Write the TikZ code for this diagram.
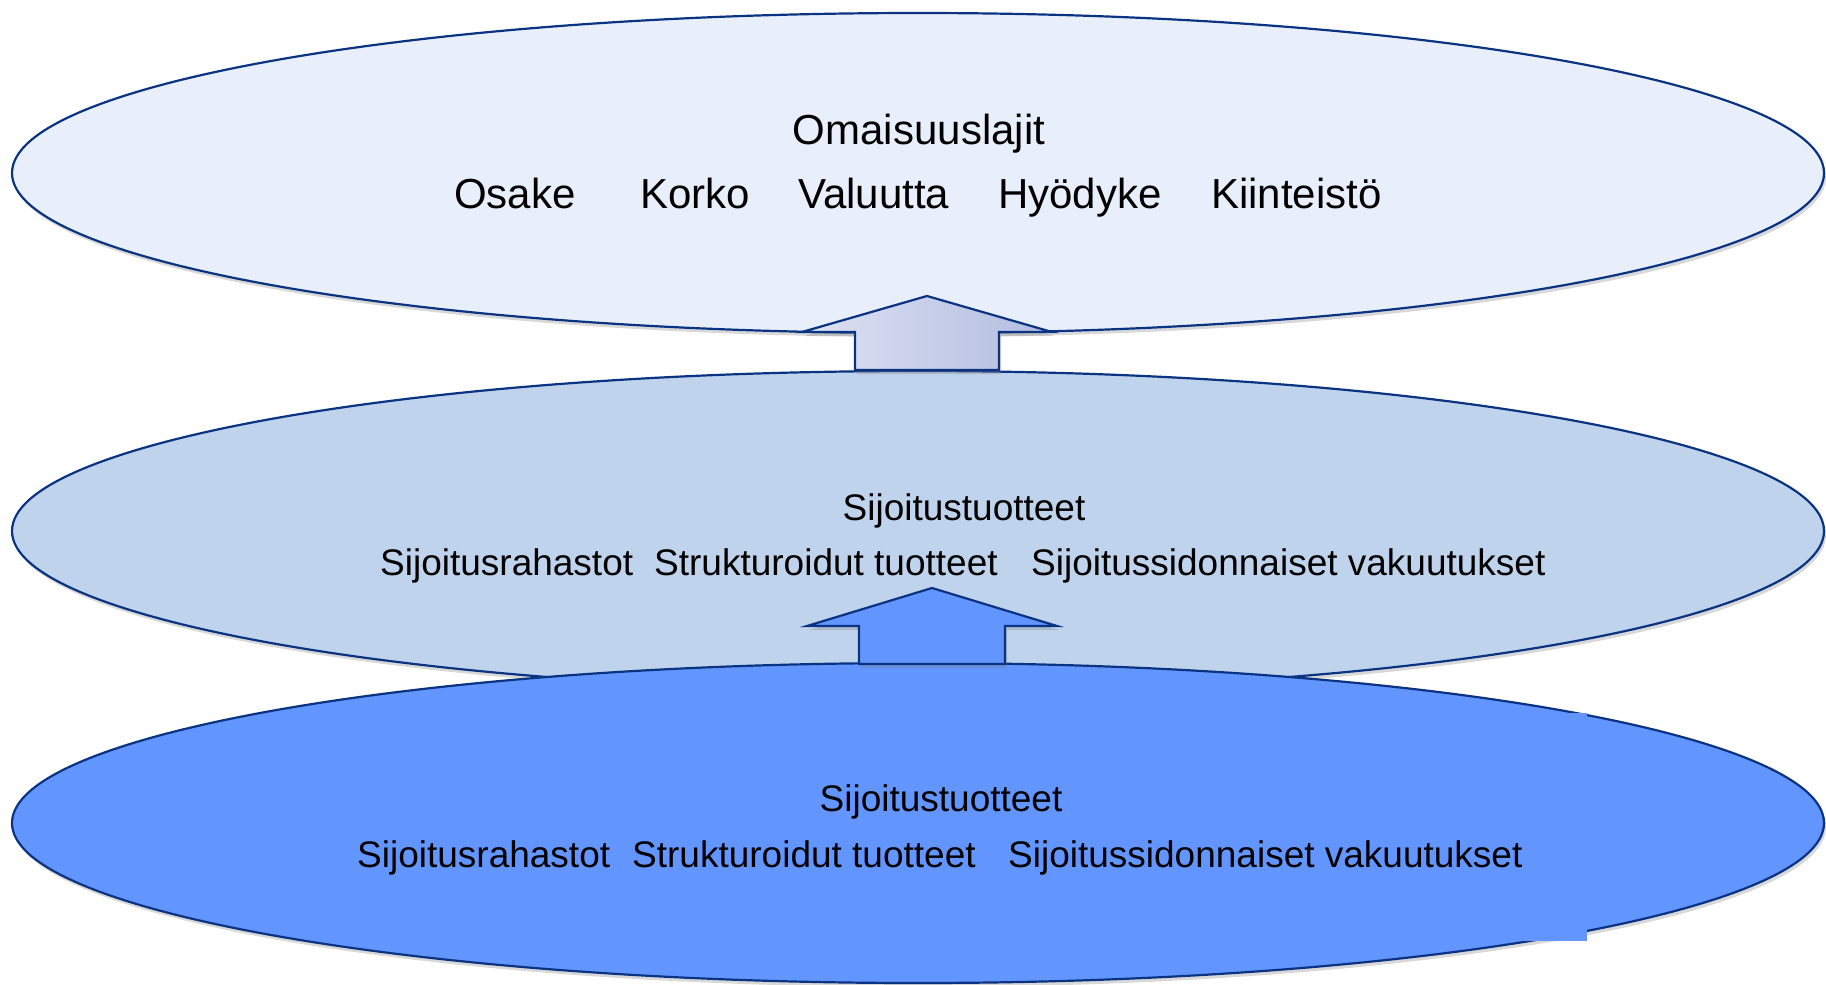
\documentclass[tikz,border=0pt]{standalone}
\usepackage{fontspec}
\setmainfont{Liberation Sans}
\usetikzlibrary{shapes.geometric,shadows}
\definecolor{edge}{RGB}{10,52,130}
\definecolor{topfill}{RGB}{232,239,250}
\definecolor{midfill}{RGB}{191,211,236}
\definecolor{botfill}{RGB}{99,149,255}
\definecolor{arrowL}{RGB}{222,226,243}
\definecolor{arrowR}{RGB}{178,188,224}
\tikzset{
  layer/.style={ellipse, draw=edge, line width=2.2pt, minimum width=1812pt,
    minimum height=320pt, inner sep=0pt,
    drop shadow={shadow xshift=2pt, shadow yshift=-4pt, opacity=0.3}},
  bigarrow/.style={draw=edge, line width=2.2pt, line join=miter,
    drop shadow={shadow xshift=2pt, shadow yshift=-4pt, opacity=0.3}},
  bigtxt/.style={font=\fontsize{42}{50}\selectfont, inner sep=0pt, anchor=base west},
  midtxt/.style={font=\fontsize{37}{44}\selectfont, inner sep=0pt, anchor=base west},
}
\begin{document}
\begin{tikzpicture}[x=1pt,y=-1pt]
\useasboundingbox (0,0) rectangle (1826,985);
\fill[white] (0,0) rectangle (1826,985);
% layers
\node[layer, fill=topfill] (top) at (918,173) {};
\node[layer, fill=midfill] (mid) at (918,531) {};
% upper arrow
\path[bigarrow, left color=arrowL, right color=arrowR]
  (927,296) -- (1052,332) -- (999,332) -- (999,370) -- (855,370)
  -- (855,332) -- (802,332) -- cycle;
\node[layer, fill=botfill] (bot) at (918,823) {};
% text box fill artefact
\fill[botfill] (340,713) rectangle (1587,941);
% lower arrow
\path[bigarrow, fill=botfill]
  (932,588) -- (1057,626) -- (1005,626) -- (1005,664) -- (859,664)
  -- (859,626) -- (807,626) -- cycle;
% top texts
\node[bigtxt, anchor=base] (t0) at (919,144) {Omaisuuslajit};
\node[bigtxt] (t1) at (454,208) {Osake};
\node[bigtxt] (t2) at (640,208) {Korko};
\node[bigtxt] (t3) at (798,208) {Valuutta};
\node[bigtxt] (t4) at (998,208) {Hyödyke};
\node[bigtxt] (t5) at (1211,208) {Kiinteistö};
% middle texts
\node[midtxt, anchor=base] (m0) at (964,520) {Sijoitustuotteet};
\node[midtxt] (m1) at (380,575) {Sijoitusrahastot};
\node[midtxt] (m2) at (654,575) {Strukturoidut tuotteet};
\node[midtxt] (m3) at (1031,575) {Sijoitussidonnaiset vakuutukset};
% bottom texts
\node[midtxt, anchor=base] (b0) at (941,811) {Sijoitustuotteet};
\node[midtxt] (b1) at (357,867) {Sijoitusrahastot};
\node[midtxt] (b2) at (632,867) {Strukturoidut tuotteet};
\node[midtxt] (b3) at (1008,867) {Sijoitussidonnaiset vakuutukset};
\end{tikzpicture}
\end{document}
